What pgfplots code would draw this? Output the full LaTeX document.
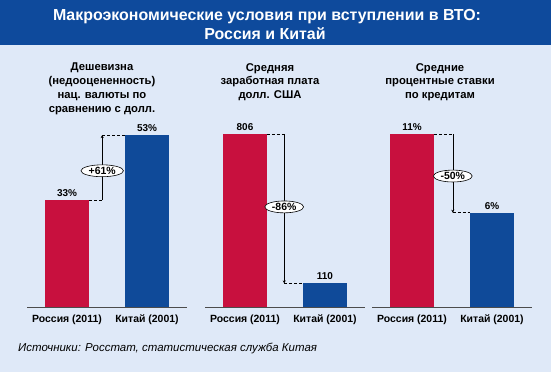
\documentclass[border=0pt]{standalone}
\usepackage{fontspec}
\setmainfont{Liberation Sans}
\usepackage{pgfplots}
\pgfplotsset{compat=1.18}
\usetikzlibrary{shapes.geometric,arrows.meta}
\definecolor{bg}{HTML}{DFE9F8}
\definecolor{titlebar}{HTML}{0E4A9C}
\definecolor{rus}{HTML}{C8103E}
\definecolor{chn}{HTML}{0F4A99}
\newcommand{\lbl}{\bfseries\fontsize{10.5}{12}\selectfont}
\newcommand{\vlbl}{\bfseries\fontsize{10}{12}\selectfont}
\pgfplotsset{panel/.style={
  scale only axis, width=160bp, height=180bp, anchor=south west,
  ymin=0, xmin=-0.5, xmax=1.5,
  ybar, bar width=44bp,
  hide y axis, axis x line*=bottom,
  x axis line style={-, draw=black!70, line width=0.9pt},
  xtick={0,1}, xticklabels={Россия (2011), Китай (2001)},
  major tick length=0pt,
  xticklabel style={font=\lbl, yshift=-4pt},
  /pgf/number format/assume math mode=true,
  nodes near coords,
  every node near coord/.append style={font=\vlbl, black},
  clip=false,
}}
\tikzset{
  dsh/.style={black, line width=0.6pt, dash pattern=on 3pt off 2pt},
  arr/.style={black, line width=0.6pt, -{Stealth[length=3pt,width=3pt]}},
  ell/.style={ellipse, draw=black, line width=0.6pt, fill=white, inner xsep=1.5pt, inner ysep=0.5pt, font=\bfseries\fontsize{10.5}{12}\selectfont},
}
\begin{document}
\begin{tikzpicture}
\fill[bg] (0bp,0bp) rectangle (551bp,372bp);
\fill[titlebar] (0bp,327bp) rectangle (551bp,372bp);
\node[anchor=base, text=white, font=\bfseries\fontsize{16}{18}\selectfont, inner sep=0] at (267bp,351.5bp) {Макроэкономические условия при вступлении в ВТО:};
\node[anchor=base, text=white, font=\bfseries\fontsize{16}{18}\selectfont, inner sep=0] at (265bp,332.5bp) {Россия и Китай};

\node[anchor=north, align=center, inner sep=0, font=\bfseries\fontsize{11.3}{13.8}\selectfont] at (102bp,309bp) {Дешевизна\\(недооцененность)\\нац. валюты по\\сравнению с долл.};
\node[anchor=north, align=center, inner sep=0, font=\bfseries\fontsize{11.3}{13.8}\selectfont] at (270bp,309bp) {Средняя\\заработная плата\\долл. США};
\node[anchor=north, align=center, inner sep=0, font=\bfseries\fontsize{11.3}{13.8}\selectfont] at (440bp,309bp) {Средние\\процентные ставки\\по кредитам};

% Panel 1
\begin{axis}[panel, at={(27bp,65bp)}, ymax=55.5,
  nodes near coords={\pgfmathprintnumber{\pgfplotspointmeta}\%}]
\addplot[fill=rus, draw=none, bar shift=0pt] coordinates {(0,33)};
\addplot[fill=chn, draw=none, bar shift=0pt] coordinates {(1,53)};
\draw[dsh] (axis cs:0.275,33) -- (axis cs:0.44,33);
\draw[dsh] (axis cs:0.44,53) -- (axis cs:0.725,53);
\draw[arr] (axis cs:0.44,33) -- (axis cs:0.44,53);
\node[ell] at (axis cs:0.44,42) {+61\%};
\end{axis}

% Panel 2
\begin{axis}[panel, at={(205bp,65bp)}, ymax=838]
\addplot[fill=rus, draw=none, bar shift=0pt] coordinates {(0,806)};
\addplot[fill=chn, draw=none, bar shift=0pt] coordinates {(1,110)};
\draw[dsh] (axis cs:0.275,806) -- (axis cs:0.49,806);
\draw[dsh] (axis cs:0.49,110) -- (axis cs:0.725,110);
\draw[arr] (axis cs:0.49,806) -- (axis cs:0.49,110);
\node[ell] at (axis cs:0.49,466) {-86\%};
\end{axis}

% Panel 3
\begin{axis}[panel, at={(372bp,65bp)}, ymax=11.45,
  nodes near coords={\pgfmathprintnumber{\pgfplotspointmeta}\%}]
\addplot[fill=rus, draw=none, bar shift=0pt] coordinates {(0,11)};
\addplot[fill=chn, draw=none, bar shift=0pt] coordinates {(1,6)};
\draw[dsh] (axis cs:0.275,11) -- (axis cs:0.51,11);
\draw[dsh] (axis cs:0.51,6) -- (axis cs:0.725,6);
\draw[arr] (axis cs:0.51,11) -- (axis cs:0.51,6);
\node[ell] at (axis cs:0.51,8.33) {-50\%};
\end{axis}

\node[anchor=base west, inner sep=0, font=\itshape\fontsize{11.5}{13}\selectfont] at (18bp,20.5bp) {Источники: Росстат, статистическая служба Китая};

\pgfresetboundingbox
\path (0bp,0bp) rectangle (551bp,372bp);
\end{tikzpicture}
\end{document}
